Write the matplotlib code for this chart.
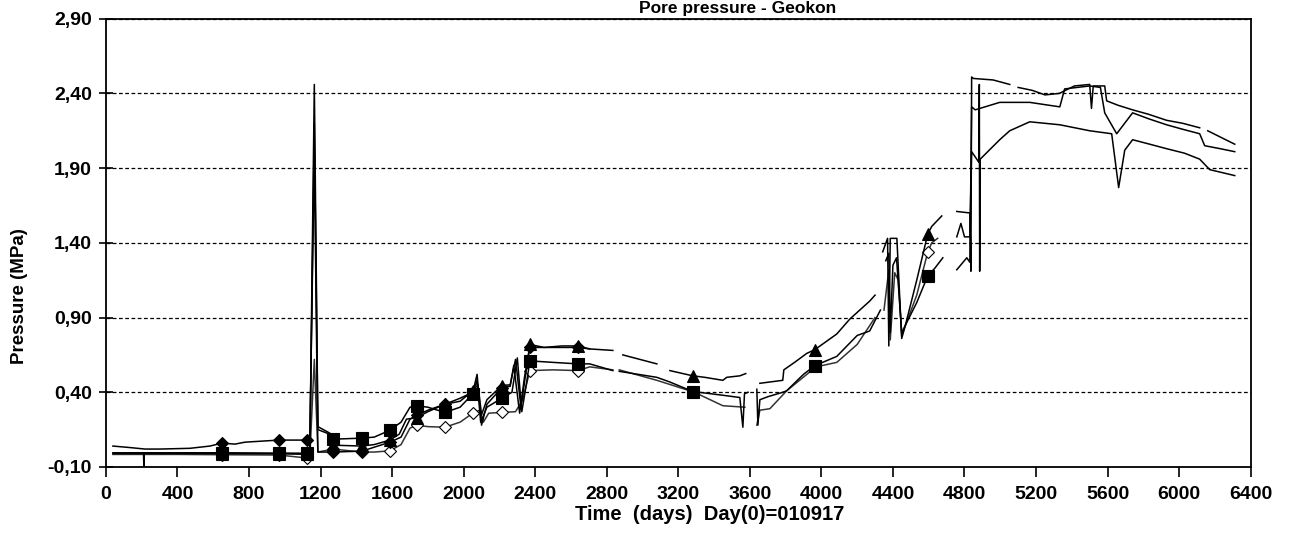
import numpy as np
import matplotlib
matplotlib.use("Agg")
import matplotlib.pyplot as plt
from matplotlib.ticker import FuncFormatter, MultipleLocator

nan = np.nan

# Time axis (days since 010917) and pore pressure (MPa) per sensor
tri_days = [39, 210, 212, 214, 650, 967, 1124, 1140, 1165, 1185, 1250, 1269, 1431, 1500, 1588, 1640, 1680,
            1737, 1800, 1895, 1980, 2051, 2080, 2100, 2130, 2213, 2260, 2290, 2320, 2350, 2370, 2450, 2550,
            2638, 2705, 2834, 2860, 2890, 3080, 3110, 3153, 3281, 3348, 3449, 3471, 3544, 3577, 3600, 3656,
            3784, 3790, 3850, 3918, 3963, 4086, 4159, 4270, 4300, 4320, 4343, 4370, 4377, 4385, 4422, 4449,
            4470, 4533, 4595, 4617, 4673, 4700, 4757, 4830, 4836, 4840, 4850, 4960, 5053, 5070, 5100, 5180,
            5250, 5330, 5415, 5500, 5510, 5520, 5584, 5595, 5660, 5740, 5830, 5930, 6020, 6115, 6140, 6160,
            6227, 6311]
tri_vals = [-0.01, -0.01, -0.10, -0.01, -0.01, -0.012, -0.015, -0.01, 2.20, 0.15, 0.12, 0.046, 0.04, 0.05,
            0.08, 0.12, 0.22, 0.23, 0.27, 0.32, 0.34, 0.41, 0.45, 0.25, 0.35, 0.445, 0.45, 0.62, 0.30, 0.55,
            0.72, 0.70, 0.71, 0.71, 0.69, 0.68, nan, 0.65, 0.59, nan, 0.545, 0.51, 0.50, 0.48, 0.50, 0.51,
            0.525, nan, 0.46, 0.48, 0.55, 0.60, 0.66, 0.685, 0.79, 0.89, 1.01, 1.05, nan, 1.34, 1.43, 0.71,
            1.43, 1.43, 0.76, 0.85, 1.15, 1.46, 1.51, 1.58, nan, 1.61, 1.60, 1.21, 2.51, 2.50, 2.49, 2.46,
            nan, 2.44, 2.42, 2.39, 2.40, 2.45, 2.46, 2.30, 2.45, 2.45, 2.35, 2.32, 2.29, 2.26, 2.22, 2.20,
            2.17, nan, 2.15, 2.11, 2.06]

sq_days = [39, 400, 650, 967, 1124, 1140, 1165, 1185, 1252, 1269, 1431, 1500, 1588, 1650, 1700, 1737, 1800,
           1895, 1980, 2051, 2075, 2095, 2130, 2213, 2270, 2300, 2325, 2350, 2370, 2500, 2638, 2705, 2834,
           2850, 2870, 3080, 3150, 3281, 3449, 3544, 3561, 3570, 3590, 3610, 3639, 3645, 3656, 3700, 3784,
           3806, 3900, 3963, 4086, 4200, 4270, 4330, 4345, 4360, 4377, 4385, 4400, 4420, 4449, 4533, 4595,
           4634, 4679, 4700, 4757, 4813, 4830, 4840, 4860, 4997, 5165, 5333, 5360, 5500, 5560, 5584, 5651,
           5740, 5830, 5930, 6020, 6115, 6143, 6230, 6311]
sq_vals = [-0.005, -0.005, -0.005, -0.007, -0.008, -0.01, 2.46, 0.17, 0.126, 0.086, 0.093, 0.10, 0.146,
           0.20, 0.30, 0.31, 0.30, 0.265, 0.30, 0.39, 0.48, 0.20, 0.30, 0.36, 0.40, 0.63, 0.27, 0.45, 0.61,
           0.60, 0.59, 0.59, 0.545, nan, 0.54, 0.50, 0.47, 0.405, 0.38, 0.365, 0.166, 0.39, 0.40, nan, 0.42,
           0.18, 0.35, 0.37, 0.40, 0.41, 0.52, 0.578, 0.64, 0.78, 0.81, 0.95, nan, 1.28, 1.33, 0.80, 1.25,
           1.30, 0.80, 1.00, 1.18, 1.23, 1.30, nan, 1.22, 1.30, 1.27, 2.31, 2.29, 2.34, 2.34, 2.31, 2.43,
           2.45, 2.44, 2.27, 2.13, 2.27, 2.23, 2.19, 2.16, 2.13, 2.05, 2.03, 2.01]

dia_days = [39, 134, 218, 302, 470, 581, 650, 721, 777, 967, 1124, 1140, 1165, 1185, 1269, 1431, 1588, 1650,
            1700, 1737, 1800, 1895, 1980, 2051, 2075, 2100, 2130, 2213, 2260, 2280, 2313, 2340, 2370, 2500,
            2638, 2705, 2720, 4757, 4780, 4800, 4830, 4840, 4880, 4883, 4885, 4888, 4997, 5053, 5165, 5333,
            5500, 5623, 5662, 5696, 5740, 5836, 5930, 6030, 6115, 6171, 6311]
dia_vals = [0.04, 0.03, 0.02, 0.02, 0.025, 0.04, 0.06, 0.053, 0.066, 0.08, 0.08, 0.08, 2.0, 0.0, 0.0, 0.006,
            0.066, 0.10, 0.22, 0.245, 0.28, 0.32, 0.36, 0.40, 0.52, 0.18, 0.32, 0.43, 0.44, 0.58, 0.26, 0.50,
            0.70, 0.70, 0.70, 0.69, nan, 1.44, 1.53, 1.44, 1.44, 2.01, 1.94, 2.46, 1.21, 1.96, 2.09, 2.15,
            2.21, 2.19, 2.15, 2.13, 1.77, 2.02, 2.09, 2.06, 2.03, 2.00, 1.96, 1.89, 1.85]

odia_days = [39, 400, 650, 967, 1124, 1140, 1165, 1185, 1269, 1431, 1500, 1588, 1650, 1700, 1737, 1800, 1895,
             1980, 2051, 2090, 2110, 2140, 2213, 2290, 2330, 2370, 2500, 2638, 2705, 2834, 2850, 2870, 3080,
             3290, 3449, 3572, 3580, 3639, 3656, 3712, 3806, 3970, 4086, 4200, 4300, 4330, 4350, 4377, 4385,
             4410, 4430, 4449, 4533, 4595, 4617, 4650]
odia_vals = [-0.016, -0.016, -0.018, -0.02, -0.04, -0.03, 0.62, 0.0, 0.02, 0.0, 0.0, 0.008, 0.05, 0.16, 0.18,
             0.17, 0.166, 0.20, 0.26, 0.28, 0.20, 0.26, 0.265, 0.27, 0.35, 0.545, 0.55, 0.545, 0.57, 0.55,
             nan, 0.55, 0.48, 0.40, 0.31, 0.30, nan, 0.18, 0.28, 0.29, 0.41, 0.57, 0.60, 0.72, 0.90, nan,
             0.95, 1.22, 0.75, 1.20, 1.15, 0.78, 1.05, 1.34, 1.40, 1.43]

marker_days = [650, 967, 1124, 1269, 1431, 1588, 1737, 1895, 2051, 2213, 2370, 2638, 3281, 3963, 4595]

y_ticks = [-0.10, 0.40, 0.90, 1.40, 1.90, 2.40, 2.90]

fig = plt.figure(figsize=(12.92, 5.34), dpi=100)
ax = fig.add_axes([0.082, 0.1255, 0.886, 0.8395])

series = [
    (odia_days, odia_vals, "D", "white", "#333333", 6.5),
    (dia_days, dia_vals, "D", "black", "black", 6.5),
    (sq_days, sq_vals, "s", "black", "black", 8),
    (tri_days, tri_vals, "^", "black", "black", 8),
]
for days, vals, mk, mfc, col, ms in series:
    d = np.array(days, dtype=float)
    v = np.array(vals, dtype=float)
    mask = np.isin(d, marker_days) & ~np.isnan(v)
    ax.plot(d, v, color=col, lw=1.1, marker=mk, markevery=list(np.where(mask)[0]),
            markersize=ms, markerfacecolor=mfc, markeredgecolor="black", markeredgewidth=0.8)

ax.set_xlim(0, 6400)
ax.set_ylim(-0.10, 2.90)
ax.xaxis.set_major_locator(MultipleLocator(400))
ax.set_yticks(y_ticks)
ax.yaxis.set_major_formatter(FuncFormatter(lambda v, p: f"{v:.2f}".replace(".", ",")))
ax.grid(axis="y", color="black", linestyle=(0, (3, 2)), lw=0.9)

for s in ax.spines.values():
    s.set_linewidth(1.3)

ax.tick_params(axis="x", direction="out", length=7, width=1.2, pad=7)
ax.tick_params(axis="y", direction="inout", length=10, width=1.2, pad=5)
for lab in ax.get_xticklabels() + ax.get_yticklabels():
    lab.set_fontweight("bold")
    lab.set_fontsize(14)
    lab.set_fontfamily("Liberation Sans")

ax.set_xlabel("Time  (days)  Day(0)=010917", fontsize=14.5, fontweight="bold", family="Liberation Sans", labelpad=0)
ax.xaxis.set_label_coords(0.527, -0.085)
ax.set_ylabel("Pressure (MPa)", fontsize=13.5, fontweight="bold", family="Liberation Sans")
ax.yaxis.set_label_coords(-0.068, 0.381)
fig.text(0.571, 1 - 13 / 534, "Pore pressure - Geokon", ha="center", va="baseline",
         fontsize=12.5, fontweight="bold", family="Liberation Sans")

fig.savefig("out.png", dpi=100)
